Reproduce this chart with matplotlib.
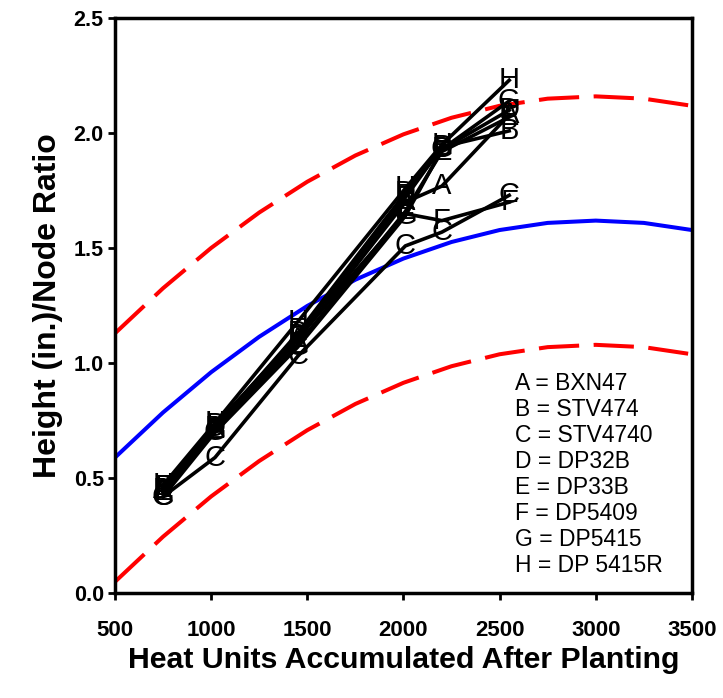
import matplotlib
matplotlib.use("Agg")
import matplotlib.pyplot as plt

plt.rcParams['font.family'] = ['Liberation Sans', 'DejaVu Sans']

# Fitted curve (mean) and confidence bands
curve_x = [500, 750, 1000, 1250, 1500, 1750, 2000, 2250, 2500, 2750, 3000, 3250, 3500]
curve_mid = [0.590, 0.786, 0.961, 1.115, 1.249, 1.363, 1.455, 1.527, 1.579, 1.610, 1.620, 1.610, 1.579]
curve_upper = [1.130, 1.326, 1.501, 1.655, 1.789, 1.903, 1.995, 2.067, 2.119, 2.150, 2.160, 2.150, 2.119]
curve_lower = [0.050, 0.246, 0.421, 0.575, 0.709, 0.823, 0.915, 0.987, 1.039, 1.070, 1.080, 1.070, 1.039]

# Observed data for each variety
heat_units = [750, 1020, 1450, 2010, 2200, 2550]
series_A = [0.45, 0.72, 1.10, 1.70, 1.77, 2.08]
series_B = [0.46, 0.73, 1.12, 1.72, 1.94, 2.01]
series_C = [0.42, 0.59, 1.03, 1.51, 1.57, 1.73]
series_D = [0.45, 0.72, 1.13, 1.74, 1.93, 2.10]
series_E = [0.44, 0.71, 1.08, 1.66, 1.92, 2.07]
series_F = [0.46, 0.70, 1.11, 1.65, 1.62, 1.70]
series_G = [0.42, 0.70, 1.07, 1.64, 1.93, 2.14]
series_H = [0.47, 0.74, 1.18, 1.76, 1.95, 2.23]

letters = ['A', 'B', 'C', 'D', 'E', 'F', 'G', 'H']
series = [series_A, series_B, series_C, series_D, series_E, series_F, series_G, series_H]
varieties = ['BXN47', 'STV474', 'STV4740', 'DP32B', 'DP33B', 'DP5409', 'DP5415', 'DP 5415R']

x_ticks = [500, 1000, 1500, 2000, 2500, 3000, 3500]
y_ticks = [0.0, 0.5, 1.0, 1.5, 2.0, 2.5]

fig = plt.figure(figsize=(7.23, 6.98), dpi=100)
ax = fig.add_axes([0.159, 0.150, 0.798, 0.824])

ax.plot(curve_x, curve_mid, color='#0000FF', lw=2.9, zorder=2)
ax.plot(curve_x, curve_upper, color='#FF0000', lw=2.9, dashes=(10, 3.6), zorder=2)
ax.plot(curve_x, curve_lower, color='#FF0000', lw=2.9, dashes=(10, 3.6), zorder=2)

for let, ys in zip(letters, series):
    ax.plot(heat_units, ys, color='black', lw=2.6, zorder=3)
    for xv, yv in zip(heat_units, ys):
        ax.text(xv, yv, let, ha='center', va='center', fontsize=21,
                color='black', zorder=4)

for i, (let, var) in enumerate(zip(letters, varieties)):
    ax.text(0.693, 0.365 - i * 0.0452, f'{let} = {var}', transform=ax.transAxes,
            ha='left', va='center', fontsize=16.5, color='black')

ax.set_xlim(500, 3500)
ax.set_ylim(0, 2.5)
ax.set_xticks(x_ticks)
ax.set_yticks(y_ticks)
ax.set_xticklabels([str(v) for v in x_ticks], fontsize=16, fontweight='bold')
ax.set_yticklabels([f'{v:.1f}' for v in y_ticks], fontsize=15.5, fontweight='bold')
ax.tick_params(direction='out', length=5, width=2)
ax.tick_params(axis='x', pad=14)
ax.tick_params(axis='y', pad=3)

for s in ax.spines.values():
    s.set_linewidth(2.5)
    s.set_color('black')

ax.set_xlabel('Heat Units Accumulated After Planting', fontsize=21.8, fontweight='bold', labelpad=4)
ax.set_ylabel('Height (in.)/Node Ratio', fontsize=23, fontweight='bold', labelpad=8)

fig.savefig('out.png', dpi=100)
